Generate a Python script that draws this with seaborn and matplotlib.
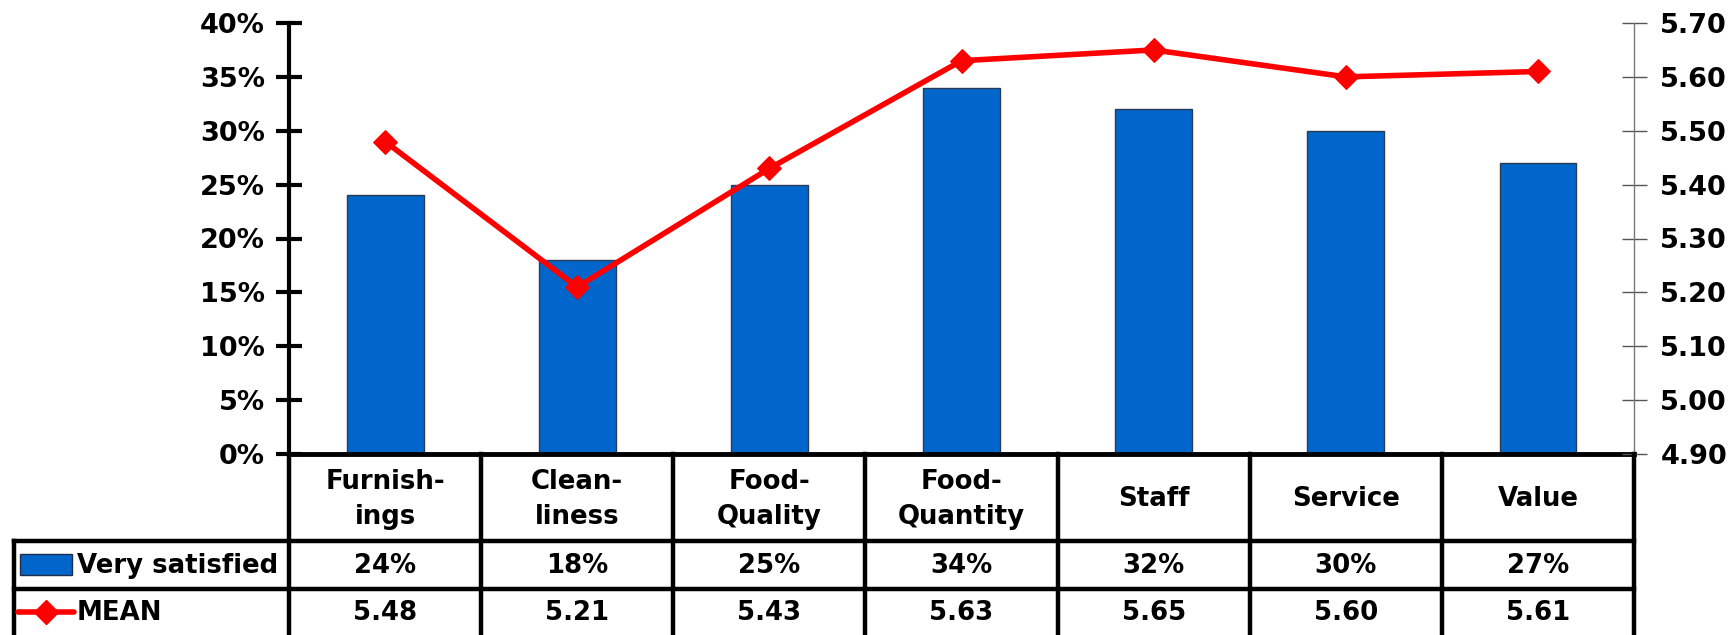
import numpy as np
import matplotlib
matplotlib.use("Agg")
import matplotlib.pyplot as plt
from matplotlib.patches import Rectangle
from matplotlib.lines import Line2D
from matplotlib.ticker import MultipleLocator, FuncFormatter
import seaborn as sns

# ---- data -------------------------------------------------------------
categories = ["Furnish-\nings", "Clean-\nliness", "Food-\nQuality", "Food-\nQuantity",
              "Staff", "Service", "Value"]
very_satisfied = [0.24, 0.18, 0.25, 0.34, 0.32, 0.30, 0.27]
mean_scores = [5.48, 5.21, 5.43, 5.63, 5.65, 5.60, 5.61]
series_names = ["Very satisfied", "MEAN"]

# ---- style ------------------------------------------------------------
sns.set_theme(style="white")
plt.rcParams["font.family"] = ["DejaVu Sans"]
plt.rcParams["font.weight"] = "bold"
plt.rcParams["text.color"] = "black"
plt.rcParams["xtick.color"] = "black"
plt.rcParams["ytick.color"] = "black"
plt.rcParams["xtick.labelcolor"] = "black"
plt.rcParams["ytick.labelcolor"] = "black"
FS = 18.7
TICK_FS = 19.5
BAR_BLUE = "#0066CC"
LINE_RED = "#FF0000"

W, H = 1735, 635
fig = plt.figure(figsize=(W / 100, H / 100), dpi=100)

# plot area (pixel geometry of the frame)
left_px, right_px, top_px, base_px = 289, 1634, 23, 454
ax = fig.add_axes([left_px / W, 1 - base_px / H,
                   (right_px - left_px) / W, (base_px - top_px) / H])

n = len(categories)
x_idx = np.arange(n)
sns.barplot(x=x_idx, y=very_satisfied, ax=ax, color=BAR_BLUE, saturation=1,
            width=0.4, edgecolor="#2b3a55", linewidth=1.0)
ax.set_xlim(-0.5, n - 0.5)
ax.set_ylim(0, 0.40)
ax.yaxis.set_major_locator(MultipleLocator(0.05))
ax.yaxis.set_major_formatter(FuncFormatter(lambda v, _: f"{v * 100:.0f}%"))
ax.set_xticks([])
ax.set_xlabel("")
ax.set_ylabel("")
ax.tick_params(axis="y", direction="inout", length=19, width=3, color="black",
               labelcolor="black", labelsize=TICK_FS, pad=8, left=True)
for lab in ax.get_yticklabels():
    lab.set_fontweight("bold")
for side in ("top", "right"):
    ax.spines[side].set_visible(False)
ax.spines["left"].set_linewidth(3)
ax.spines["left"].set_color("black")
ax.spines["bottom"].set_linewidth(3.5)
ax.spines["bottom"].set_color("black")

# secondary axis for the mean score
ax2 = ax.twinx()
sns.lineplot(x=x_idx, y=mean_scores, ax=ax2, color=LINE_RED, linewidth=4,
             marker="D", markersize=12, markeredgecolor=LINE_RED,
             markerfacecolor=LINE_RED, legend=False, clip_on=False)
ax2.set_xlim(-0.5, n - 0.5)
ax2.set_ylim(4.90, 5.70)
ax2.yaxis.set_major_locator(MultipleLocator(0.10))
ax2.yaxis.set_major_formatter(FuncFormatter(lambda v, _: f"{v:.2f}"))
ax2.set_ylabel("")
ax2.tick_params(axis="y", direction="inout", length=18, width=1, color="#555555",
                labelcolor="black", labelsize=TICK_FS, pad=10, right=True)
for lab in ax2.get_yticklabels():
    lab.set_fontweight("bold")
for side in ("top", "left", "bottom"):
    ax2.spines[side].set_visible(False)
ax2.spines["right"].set_color("#777777")
ax2.spines["right"].set_linewidth(1)

# ---- data table below the plot ---------------------------------------
unit = (right_px - left_px) / n
tab_left_px = 12


def px2x(p):
    return -0.5 + (p - left_px) / unit


tab = fig.add_axes([tab_left_px / W, 0, (right_px - tab_left_px) / W, 1 - base_px / H])
tab.set_xlim(px2x(tab_left_px), n - 0.5)
tab.set_ylim(H, base_px)
tab.axis("off")

row1_top, row2_top = 541, 589
LW = 3.2
xl = px2x(tab_left_px + 1.5)
kw = dict(color="black", linewidth=LW, solid_capstyle="projecting", clip_on=False)
tab.plot([xl, n - 0.5], [row1_top, row1_top], **kw)
tab.plot([xl, n - 0.5], [row2_top, row2_top], **kw)
tab.plot([xl, xl], [row1_top, H + 5], **kw)
for k in range(n + 1):
    xb = k - 0.5
    tab.plot([xb, xb], [base_px, H + 5], **kw)

hdr_y = (base_px + row1_top) / 2 + 2
r1_y = (row1_top + row2_top) / 2 + 1
r2_y = (row2_top + H) / 2 + 1
for i, cat in enumerate(categories):
    tab.text(i, hdr_y, cat, ha="center", va="center", fontsize=FS,
             fontweight="bold", linespacing=1.45)
    tab.text(i, r1_y, f"{very_satisfied[i] * 100:.0f}%", ha="center", va="center",
             fontsize=FS, fontweight="bold")
    tab.text(i, r2_y, f"{mean_scores[i]:.2f}", ha="center", va="center",
             fontsize=FS, fontweight="bold")

# legend keys inside the first column
tab.add_patch(Rectangle((px2x(20), 554), px2x(72) - px2x(20), 21,
                        facecolor=BAR_BLUE, edgecolor="#1f2d4a", linewidth=1))
tab.add_line(Line2D([px2x(18), px2x(74)], [612, 612], color=LINE_RED, linewidth=4,
                    solid_capstyle="round"))
tab.add_line(Line2D([px2x(46)], [612], color=LINE_RED, marker="D", markersize=12,
                    markeredgecolor=LINE_RED))
tab.text(px2x(77), r1_y, series_names[0], ha="left", va="center",
         fontsize=FS, fontweight="bold")
tab.text(px2x(77), r2_y, series_names[1], ha="left", va="center",
         fontsize=FS, fontweight="bold")

fig.savefig("out.png", dpi=100)
